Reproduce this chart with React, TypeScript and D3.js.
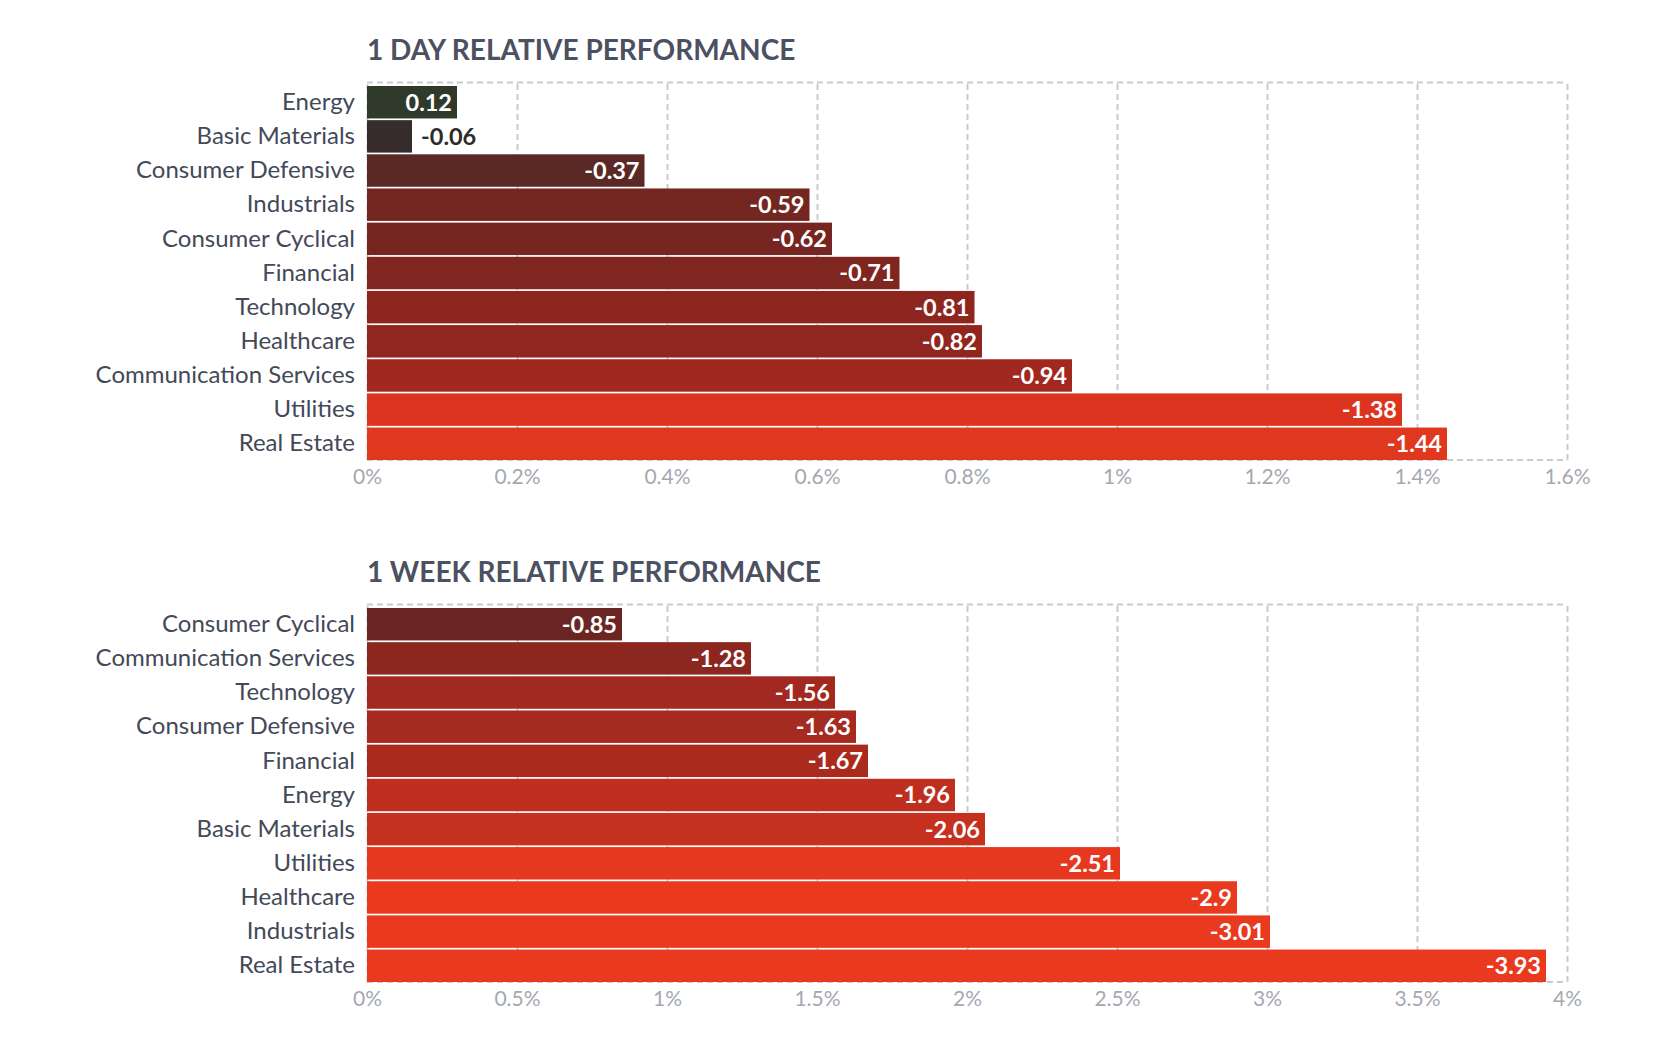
import { useRef, useEffect } from 'react'
import * as d3 from 'd3'

const dayCategories = [
  'Energy',
  'Basic Materials',
  'Consumer Defensive',
  'Industrials',
  'Consumer Cyclical',
  'Financial',
  'Technology',
  'Healthcare',
  'Communication Services',
  'Utilities',
  'Real Estate',
]
const dayValues = [0.12, -0.06, -0.37, -0.59, -0.62, -0.71, -0.81, -0.82, -0.94, -1.38, -1.44]
const dayColors = [
  '#2f3a2b', '#352c2b', '#5a2926', '#742620', '#772520', '#7f2620',
  '#8e2620', '#912620', '#a1281e', '#dc341e', '#e0371f',
]
const dayTicks = [0, 0.2, 0.4, 0.6, 0.8, 1, 1.2, 1.4, 1.6]

const weekCategories = [
  'Consumer Cyclical',
  'Communication Services',
  'Technology',
  'Consumer Defensive',
  'Financial',
  'Energy',
  'Basic Materials',
  'Utilities',
  'Healthcare',
  'Industrials',
  'Real Estate',
]
const weekValues = [-0.85, -1.28, -1.56, -1.63, -1.67, -1.96, -2.06, -2.51, -2.9, -3.01, -3.93]
const weekColors = [
  '#6b2624', '#8c2720', '#a1291f', '#a52a1f', '#aa2b1e', '#bf2f1f',
  '#c5301f', '#e6381f', '#e9391f', '#e9391f', '#e9391f',
]
const weekTicks = [0, 0.5, 1, 1.5, 2, 2.5, 3, 3.5, 4]

interface Panel {
  title: string
  categories: string[]
  values: number[]
  colors: string[]
  ticks: number[]
  top: number
}

const FONT = 'Lato, "Open Sans", sans-serif'

function drawPanel(svg: d3.Selection<SVGSVGElement, unknown, null, undefined>, p: Panel) {
  const left = 367
  const right = 1567
  const boxTop = p.top
  const boxBottom = p.top + 377.5

  const x = d3
    .scaleLinear()
    .domain([0, p.ticks[p.ticks.length - 1]])
    .range([left, right])

  const y = d3
    .scaleBand<string>()
    .domain(p.categories)
    .range([boxTop + 3.5, boxBottom])
    .paddingInner(0.05)
    .paddingOuter(0)

  const g = svg.append('g')

  // title
  g.append('text')
    .attr('x', left)
    .attr('y', boxTop - 22.5)
    .attr('fill', '#4b5160')
    .attr('font-family', FONT)
    .attr('font-weight', 700)
    .attr('font-size', '28px')
    .text(p.title)

  // vertical dashed grid
  g.append('g')
    .attr('transform', `translate(0,${boxBottom})`)
    .call(d3.axisBottom(x).tickValues(p.ticks).tickSize(-(boxBottom - boxTop)).tickFormat(() => ''))
    .call((a) => {
      a.select('.domain').remove()
      a.selectAll('.tick line')
        .attr('stroke', '#c9cbd1')
        .attr('stroke-width', 2)
        .attr('stroke-dasharray', '6,4')
    })

  // top + bottom dashed borders
  ;[boxTop, boxBottom].forEach((yy) => {
    g.append('line')
      .attr('x1', left)
      .attr('x2', right)
      .attr('y1', yy)
      .attr('y2', yy)
      .attr('stroke', '#c9cbd1')
      .attr('stroke-width', 2)
      .attr('stroke-dasharray', '6,4')
  })

  const rows = p.categories.map((c, i) => ({ c, v: p.values[i], color: p.colors[i] }))

  // bars
  g.selectAll('rect.bar')
    .data(rows)
    .join('rect')
    .attr('class', 'bar')
    .attr('x', x(0))
    .attr('y', (d) => y(d.c)!)
    .attr('width', (d) => x(Math.abs(d.v)) - x(0))
    .attr('height', y.bandwidth())
    .attr('fill', (d) => d.color)

  // value labels
  g.selectAll('text.val')
    .data(rows)
    .join('text')
    .attr('class', 'val')
    .each(function (d) {
      const w = x(Math.abs(d.v)) - x(0)
      const inside = w > 70
      d3.select(this)
        .attr('x', inside ? x(Math.abs(d.v)) - 5 : x(Math.abs(d.v)) + 9)
        .attr('text-anchor', inside ? 'end' : 'start')
        .attr('fill', inside ? '#ffffff' : '#2e2a2a')
    })
    .attr('y', (d) => y(d.c)! + y.bandwidth() / 2)
    .attr('dy', '0.36em')
    .attr('font-family', FONT)
    .attr('font-weight', 700)
    .attr('font-size', '23.5px')
    .text((d) => String(d.v))

  // category labels
  g.append('g')
    .attr('transform', `translate(${left},0)`)
    .call(d3.axisLeft(y).tickSize(0).tickPadding(12))
    .call((a) => {
      a.select('.domain').remove()
      a.selectAll('.tick text')
        .attr('fill', '#434958')
        .attr('font-family', FONT)
        .attr('font-size', '24px')
    })

  // x tick labels
  g.append('g')
    .attr('transform', `translate(0,${boxBottom})`)
    .call(d3.axisBottom(x).tickValues(p.ticks).tickSize(0).tickPadding(9).tickFormat((d) => `${d}%`))
    .call((a) => {
      a.select('.domain').remove()
      a.selectAll('.tick text')
        .attr('fill', '#a5a8b0')
        .attr('font-family', FONT)
        .attr('font-size', '21px')
    })
}

export default function App() {
  const svgRef = useRef<SVGSVGElement>(null)

  useEffect(() => {
    document.body.style.margin = '0'
    if (!svgRef.current) return
    const svg = d3.select(svgRef.current)
    svg.selectAll('*').remove()

    drawPanel(svg, {
      title: '1 DAY RELATIVE PERFORMANCE',
      categories: dayCategories,
      values: dayValues,
      colors: dayColors,
      ticks: dayTicks,
      top: 82.5,
    })
    drawPanel(svg, {
      title: '1 WEEK RELATIVE PERFORMANCE',
      categories: weekCategories,
      values: weekValues,
      colors: weekColors,
      ticks: weekTicks,
      top: 604.5,
    })
  }, [])

  return (
    <svg
      ref={svgRef}
      width={1660}
      height={1044}
      style={{ display: 'block', background: '#ffffff' }}
    />
  )
}
